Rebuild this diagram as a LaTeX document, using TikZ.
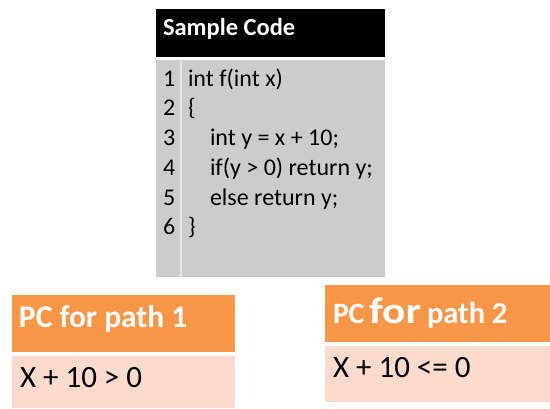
\documentclass[tikz,border=0pt]{standalone}
\usepackage{fontspec}
\usepackage{graphicx}
\setmainfont{Carlito}
\definecolor{hdrblack}{RGB}{0,0,0}
\definecolor{codegray}{RGB}{204,204,204}
\definecolor{colsep}{RGB}{230,230,230}
\definecolor{pcorange}{RGB}{247,150,70}
\definecolor{pcpink}{RGB}{252,218,204}
\tikzset{
  txt/.style={anchor=base west, inner sep=0pt, outer sep=0pt},
  code/.style={txt, font=\fontsize{24}{29}\selectfont, text=black},
  hdr/.style={txt, font=\fontsize{24.5}{29}\selectfont\bfseries, text=white},
  pchdr/.style={txt, font=\fontsize{31.5}{36}\selectfont\bfseries, text=white},
  pcbody/.style={txt, font=\fontsize{31}{37}\selectfont, text=black},
}
\begin{document}
\begin{tikzpicture}[x=1pt,y=-1pt]
\useasboundingbox (0,0) rectangle (550,408);
% sample code table
\fill[hdrblack] (156,9) rectangle (385,57);
\fill[codegray] (156,60) rectangle (385,277);
\fill[colsep] (180,60) rectangle (182,277);
\node[hdr] (title) at (163,35) {Sample Code};
\foreach \n/\y/\t/\ind in {1/86/{int f(int x)}/188, 2/115/{\{}/188, 3/145/{int y = x + 10;}/210,
    4/175/{if(y > 0) return y;}/210, 5/205/{else return y;}/210, 6/234/{\}}/188}{
  \node[code] (num\n) at (163,\y) {\n};
  \node[code] (line\n) at (\ind,\y) {\t};
}
% path condition, path 1
\fill[pcorange] (12,295) rectangle (235,352);
\fill[pcpink] (12,356) rectangle (235,408);
\node[pchdr] (pc1) at (19,327) {PC for path 1};
\node[pcbody] (cond1) at (20,387) {X + 10 > 0};
% path condition, path 2 (heading set in mixed sizes)
\fill[pcorange] (325,285) rectangle (550,342);
\fill[pcpink] (325,346) rectangle (550,402);
\node[pchdr, font=\fontsize{29.5}{34}\selectfont\bfseries] (pc2a) at (333,323) {PC};
\node[pchdr, font=\fontsize{37}{42}\selectfont\bfseries] (pc2b) at (369,323) {\scalebox{1.18}[1]{for}};
\node[pchdr, font=\fontsize{30.5}{35}\selectfont\bfseries] (pc2c) at (427,323) {path 2};
\node[pcbody] (cond2) at (333,377) {X + 10 <= 0};
\end{tikzpicture}
\end{document}
